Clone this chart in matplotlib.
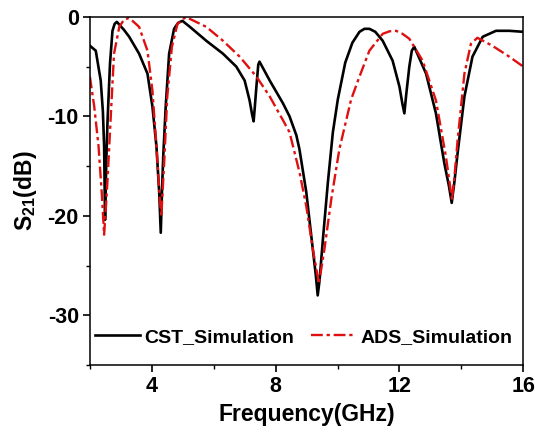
import matplotlib.pyplot as plt
from matplotlib.ticker import MultipleLocator

plt.rcParams['font.family'] = ['Liberation Sans', 'DejaVu Sans']
plt.rcParams['font.weight'] = 'bold'
plt.rcParams['axes.unicode_minus'] = False
plt.rcParams['mathtext.fontset'] = 'custom'
plt.rcParams['mathtext.bf'] = 'Liberation Sans:bold'
plt.rcParams['mathtext.rm'] = 'Liberation Sans:bold'

# CST simulation (black solid)
cst_freq = [2.0, 2.19, 2.35, 2.42, 2.46, 2.49, 2.53, 2.57, 2.65, 2.73, 2.8, 2.87,
            3.1, 3.27, 3.59, 3.86, 4.02, 4.15, 4.24, 4.29, 4.33, 4.37, 4.45, 4.56,
            4.72, 4.85, 4.99, 5.23, 5.76, 6.3, 6.73, 7.0, 7.16, 7.24, 7.29, 7.33,
            7.38, 7.44, 7.48, 7.81, 8.24, 8.45, 8.67, 8.77, 8.99, 9.2, 9.3, 9.36,
            9.42, 9.53, 9.69, 9.85, 10.01, 10.25, 10.48, 10.71, 10.87, 11.03, 11.22,
            11.46, 11.78, 12.0, 12.1, 12.16, 12.22, 12.32, 12.4, 12.48, 12.86, 13.18,
            13.45, 13.6, 13.69, 13.78, 13.88, 14.1, 14.36, 14.69, 15.12, 15.55, 16.0]
cst_s21 = [-2.9, -3.4, -6.4, -9.5, -13.0, -20.4, -14.5, -10.5, -4.7, -1.4, -0.7, -0.5,
           -1.3, -2.0, -3.7, -5.7, -9.0, -13.0, -17.7, -21.7, -17.5, -14.0, -9.0, -3.7,
           -1.2, -0.6, -0.4, -1.0, -2.4, -3.7, -5.0, -6.4, -8.4, -9.8, -10.5, -9.0,
           -7.0, -4.8, -4.5, -6.4, -8.7, -10.0, -11.9, -13.3, -17.6, -23.3, -26.0, -28.0,
           -26.5, -22.3, -16.6, -11.6, -8.3, -4.6, -2.6, -1.5, -1.2, -1.2, -1.5,
           -2.4, -4.4, -7.0, -8.8, -9.7, -7.8, -5.0, -3.4, -3.0, -5.7, -9.7,
           -14.7, -17.0, -18.7, -16.5, -13.7, -8.0, -4.0, -2.0, -1.4, -1.4, -1.5]

# ADS simulation (red dash-dot)
ads_freq = [2.0, 2.14, 2.28, 2.39, 2.46, 2.52, 2.57, 2.68, 2.78, 2.95, 3.1, 3.27,
            3.59, 3.86, 4.02, 4.15, 4.26, 4.31, 4.35, 4.4, 4.5, 4.65, 4.83, 5.1,
            5.23, 5.76, 6.3, 6.84, 7.38, 7.81, 8.24, 8.45, 8.77, 8.99, 9.2, 9.4,
            9.58, 9.8, 10.06, 10.44, 10.71, 11.03, 11.46, 11.68, 11.89, 12.1, 12.32,
            12.75, 13.18, 13.5, 13.7, 13.78, 13.88, 14.1, 14.31, 14.52, 15.0, 15.55, 16.0]
ads_s21 = [-6.0, -9.0, -13.0, -18.0, -21.9, -19.0, -16.4, -9.7, -3.7, -1.0, -0.3, -0.1,
           -1.0, -3.4, -7.4, -13.0, -18.4, -20.0, -17.5, -14.7, -8.0, -3.0, -0.7, 0.0,
           -0.2, -1.0, -2.4, -4.0, -6.0, -8.0, -10.4, -11.6, -15.6, -19.0, -23.3, -26.8,
           -23.3, -18.3, -13.3, -8.3, -6.0, -3.4, -1.7, -1.45, -1.4, -1.7, -2.2,
           -4.4, -8.4, -14.0, -18.4, -16.0, -12.4, -5.7, -2.7, -2.1, -2.9, -4.0, -5.0]

fig = plt.figure(figsize=(5.35, 4.33), dpi=100)
ax = fig.add_axes([0.168, 0.157, 0.81, 0.804])

ax.plot(cst_freq, cst_s21, color='black', linewidth=1.9, label='CST_Simulation')
ax.plot(ads_freq, ads_s21, color='#e01010', linewidth=1.7,
        linestyle=(0, (5, 1.6, 1.4, 1.6)), label='ADS_Simulation')

ax.set_xlim(2, 16)
ax.set_ylim(-35, 0)
ax.xaxis.set_major_locator(MultipleLocator(4))
ax.xaxis.set_minor_locator(MultipleLocator(2))
ax.yaxis.set_major_locator(MultipleLocator(10))
ax.yaxis.set_minor_locator(MultipleLocator(5))
ax.tick_params(which='major', direction='out', length=5, width=1.2, labelsize=15.5, pad=3)
ax.tick_params(which='minor', direction='out', length=3, width=1.0)
for s in ax.spines.values():
    s.set_linewidth(1.1)

ax.set_xlabel('Frequency(GHz)', fontsize=16.5, fontweight='bold', labelpad=4)
ax.set_ylabel(r'S$_\mathbf{21}$(dB)', fontsize=16.5, fontweight='bold', labelpad=6)

ax.legend(loc='lower left', bbox_to_anchor=(0.012, 0.055), ncol=2, frameon=False,
          fontsize=14, handlelength=2.3, handletextpad=0.25, columnspacing=0.85,
          borderaxespad=0, borderpad=0)

fig.savefig('out.png', dpi=100)
